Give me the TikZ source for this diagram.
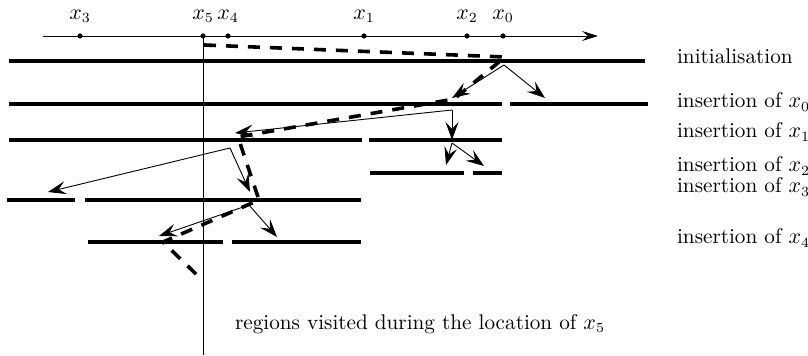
\documentclass[tikz,border=0pt]{standalone}
\usetikzlibrary{arrows.meta}
\begin{document}
\begin{tikzpicture}[x=0.5pt,y=-0.5pt,
        font=\fontsize{10.6pt}{13pt}\selectfont,
        nivel/.style={line width=1.6pt},
        salto/.style={line width=0.45pt, -{Stealth[length=9pt,width=6.5pt,inset=3.5pt]}},
        camino/.style={line width=1.8pt, dash pattern=on 6pt off 5pt}]
    \useasboundingbox (0,0) rectangle (808,356);

    % Eje con los puntos insertados
    \coordinate (ejeA) at (43,36);
    \coordinate (ejeB) at (598,36);
    \draw[line width=0.45pt, -{Stealth[length=8pt,width=5pt,inset=3pt]}] (ejeA) -- (ejeB);
    \foreach \i/\px in {3/80, 5/203, 4/228, 1/364, 2/467, 0/503} {
        \coordinate (x\i) at (\px,36);
        \fill (x\i) circle (1.3pt);
        \node (lx\i) at (\px,16) {$x_{\i}$};
    }

    % Recta vertical por x5
    \coordinate (bajo) at (203,355);
    \draw[line width=0.45pt] (x5) -- (bajo);

    % Niveles (regiones)
    \foreach \y/\a/\b in {61/9/645, 104/9/502, 104/510/648, 140/9/362, 140/369/502,
                          173/370/464, 173/473/502, 200/7/75, 200/85/361,
                          242/88/223, 242/232/361}
        \draw[nivel] (\a,\y) -- (\b,\y);

    % Etiquetas de los niveles
    \foreach \y/\txt [count=\k] in {56/initialisation, 102/insertion of $x_0$,
                                    132/insertion of $x_1$, 166/insertion of $x_2$,
                                    187/insertion of $x_3$, 238/insertion of $x_4$}
        \node[anchor=west, inner ysep=1pt] (niv\k) at (670,\y) {\txt};
    \node[anchor=west] (leyenda) at (228,324) {regions visited during the location of $x_5$};

    % Saltos del grafo de historia
    \coordinate (r0) at (504,65);  \coordinate (r0a) at (452,98);  \coordinate (r0b) at (545,98);
    \coordinate (r1) at (452,110); \coordinate (r1a) at (235,133); \coordinate (r1b) at (452,140);
    \coordinate (r2) at (452,143); \coordinate (r2a) at (446,165); \coordinate (r2b) at (484,166);
    \coordinate (r3) at (230,148); \coordinate (r3a) at (48,192);  \coordinate (r3b) at (250,192);
    \coordinate (r4) at (249,205); \coordinate (r4a) at (159,236); \coordinate (r4b) at (277,237);
    \foreach \s/\t in {r0/r0a, r0/r0b, r1/r1a, r1/r1b, r2/r2a, r2/r2b,
                       r3/r3a, r3/r3b, r4/r4a, r4/r4b}
        \draw[salto] (\s) -- (\t);

    % Camino de la localizacion de x5
    \coordinate (c0) at (204,45);
    \coordinate (c1) at (505,57);
    \coordinate (c2) at (454,99);
    \coordinate (c3) at (238,137);
    \coordinate (c4) at (259,200);
    \coordinate (c5) at (163,242);
    \coordinate (c6) at (198,276);
    \draw[camino] (c0) -- (c1) -- (c2) -- (c3) -- (c4) -- (c5) -- (c6);
\end{tikzpicture}
\end{document}
